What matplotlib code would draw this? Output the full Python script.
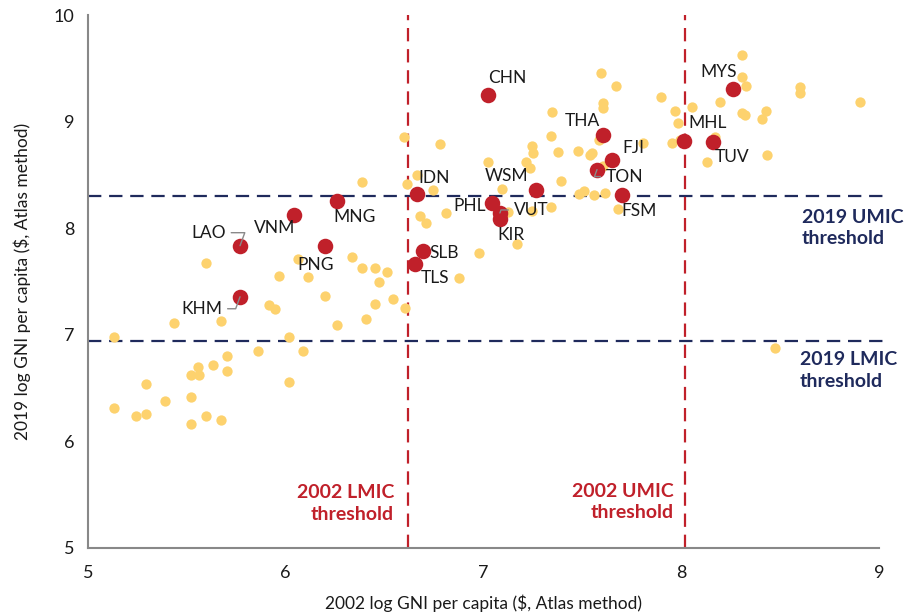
import matplotlib.pyplot as plt

plt.rcParams['font.family'] = ['Lato', 'DejaVu Sans']

# other countries (2002 log GNI, 2019 log GNI)
other_x = [5.597, 6.063, 5.968, 6.113, 6.335, 6.386, 6.451, 6.514, 6.470, 6.199,
           5.917, 5.944, 6.453, 6.544, 6.603, 6.404, 6.258, 5.435, 5.671, 5.130,
           6.018, 5.860, 6.089, 5.703, 5.634, 5.558, 5.519, 5.561, 5.703, 5.295,
           6.018, 5.391, 5.519, 5.130, 5.243, 5.295, 5.597, 5.671, 5.519,
           6.600, 6.780, 6.386, 6.615, 6.665, 6.743, 6.679, 6.707, 6.812, 7.024,
           7.095, 7.122, 7.167, 6.977, 6.878, 7.243, 7.252, 7.213, 7.235, 7.347,
           7.340, 7.376, 7.392, 7.340, 7.243, 7.477, 7.539, 7.547, 7.592, 7.668,
           7.602, 7.602, 7.586, 7.606, 7.481, 7.506, 7.561, 7.614, 7.682,
           7.898, 7.968, 7.982, 8.054, 8.196, 8.309, 8.309, 8.325, 8.600, 8.600,
           8.904, 8.305, 8.324, 8.428, 8.406, 7.805, 7.951, 7.994, 8.171, 8.128,
           8.435, 8.474]
other_y = [7.677, 7.708, 7.552, 7.540, 7.727, 7.630, 7.630, 7.592, 7.492, 7.364,
           7.282, 7.242, 7.292, 7.336, 7.249, 7.151, 7.095, 7.111, 7.127, 6.979,
           6.979, 6.851, 6.848, 6.804, 6.713, 6.700, 6.623, 6.623, 6.660, 6.538,
           6.554, 6.382, 6.420, 6.310, 6.238, 6.257, 6.238, 6.201, 6.160,
           8.858, 8.787, 8.437, 8.415, 8.496, 8.358, 8.114, 8.052, 8.146, 8.624,
           8.365, 8.155, 7.849, 7.764, 7.530, 8.771, 8.703, 8.624, 8.568, 9.093,
           8.865, 8.718, 8.446, 8.202, 8.164, 8.727, 8.687, 8.708, 9.453, 9.337,
           9.172, 9.130, 8.827, 8.584, 8.318, 8.349, 8.311, 8.327, 8.178,
           9.234, 9.102, 8.990, 9.140, 9.187, 9.625, 9.422, 9.337, 9.322, 9.266,
           9.187, 9.078, 9.062, 9.102, 9.021, 8.796, 8.802, 8.827, 8.853, 8.618,
           8.687, 6.879]

# highlighted countries
codes = ['CHN', 'THA', 'FJI', 'TON', 'FSM', 'MHL', 'TUV', 'MYS', 'IDN', 'WSM',
         'PHL', 'VUT', 'KIR', 'SLB', 'TLS', 'MNG', 'VNM', 'LAO', 'PNG', 'KHM']
hl_x = [7.024, 7.604, 7.652, 7.574, 7.699, 8.015, 8.162, 8.263, 6.666, 7.265,
        7.043, 7.083, 7.086, 6.692, 6.655, 6.258, 6.042, 5.769, 6.199, 5.769]
hl_y = [9.250, 8.874, 8.640, 8.550, 8.311, 8.821, 8.812, 9.306, 8.319, 8.358,
        8.236, 8.143, 8.088, 7.789, 7.664, 8.258, 8.124, 7.836, 7.836, 7.357]

# label offsets in pixels (dx, dy)
offsets = {'CHN': (0, 17), 'THA': (-38, 14), 'FJI': (10, 12), 'TON': (9, -7),
           'FSM': (0, -16), 'MHL': (4, 18), 'TUV': (1, -15), 'MYS': (-33, 17),
           'IDN': (1, 16), 'WSM': (-51, 14), 'PHL': (-39, -3), 'VUT': (14, 3),
           'KIR': (-3, -16), 'SLB': (7, -2), 'TLS': (5, -14), 'MNG': (-3, -16),
           'VNM': (-40, -13), 'LAO': (-49, 13), 'PNG': (-28, -19), 'KHM': (-59, -12)}
leaders = ['LAO', 'KHM', 'TON', 'VUT']

lmic_2002, umic_2002 = 6.62, 8.02
lmic_2019, umic_2019 = 6.94, 8.30

navy = '#1f2a5c'
red = '#c0202a'
yellow = '#fdd26e'
ink = '#1a1a1a'

fig = plt.figure(figsize=(9.06, 6.16), dpi=100)
ax = fig.add_axes([0.0971, 0.1104, 0.8731, 0.8652])

ax.axhline(umic_2019, xmax=1.005, color=navy, lw=1.6, dashes=(6, 3.5), clip_on=False, zorder=1)
ax.axhline(lmic_2019, xmax=1.005, color=navy, lw=1.6, dashes=(6, 3.5), clip_on=False, zorder=1)
ax.axvline(lmic_2002, color=red, lw=1.6, dashes=(6, 3.5), zorder=1)
ax.axvline(umic_2002, color=red, lw=1.6, dashes=(6, 3.5), zorder=1)

ax.scatter(other_x, other_y, s=55, color=yellow, linewidths=0, zorder=2)
ax.scatter(hl_x, hl_y, s=125, color=red, linewidths=0, zorder=3)

for c, x, y in zip(codes, hl_x, hl_y):
    dx, dy = offsets[c]
    if c in leaders:
        rel = (1, 0.5) if dx < 0 else (0, 0.5)
        ax.annotate(c, (x, y), xytext=(dx, dy), textcoords='offset pixels',
                    ha='left', va='center', fontsize=12.5, color=ink, zorder=4,
                    arrowprops=dict(arrowstyle='-', color='#8a8a8a', lw=1,
                                    relpos=rel, shrinkA=2, shrinkB=0,
                                    connectionstyle='angle,angleA=0,angleB=70,rad=0'))
    else:
        ax.annotate(c, (x, y), xytext=(dx, dy), textcoords='offset pixels',
                    ha='left', va='center', fontsize=12.5, color=ink, zorder=4)

ax.text(8.611, 8.0, '2019 UMIC\nthreshold', color=navy, fontsize=14, fontweight='bold',
        ha='left', va='center', linespacing=1.3)
ax.text(8.60, 6.665, '2019 LMIC\nthreshold', color=navy, fontsize=14, fontweight='bold',
        ha='left', va='center', linespacing=1.3)
ax.text(6.547, 5.418, '2002 LMIC\nthreshold', color=red, fontsize=14, fontweight='bold',
        ha='right', va='center', multialignment='right', linespacing=1.3)
ax.text(7.963, 5.432, '2002 UMIC\nthreshold', color=red, fontsize=14, fontweight='bold',
        ha='right', va='center', multialignment='right', linespacing=1.3)

ax.set_xlim(5, 9)
ax.set_ylim(5, 10)
ax.set_xticks([5, 6, 7, 8, 9])
ax.set_yticks([5, 6, 7, 8, 9, 10])
ax.tick_params(length=0, labelsize=13, colors=ink, pad=10)
ax.tick_params(axis='x', pad=12)
ax.set_xlabel('2002 log GNI per capita ($, Atlas method)', fontsize=12.5, color=ink, labelpad=10)
ax.set_ylabel('2019 log GNI per capita ($, Atlas method)', fontsize=12.5, color=ink, labelpad=16)

for s in ['top', 'right']:
    ax.spines[s].set_visible(False)
for s in ['left', 'bottom']:
    ax.spines[s].set_color('#888888')
    ax.spines[s].set_linewidth(1.5)

plt.savefig('out.png', dpi=100)
plt.close()
